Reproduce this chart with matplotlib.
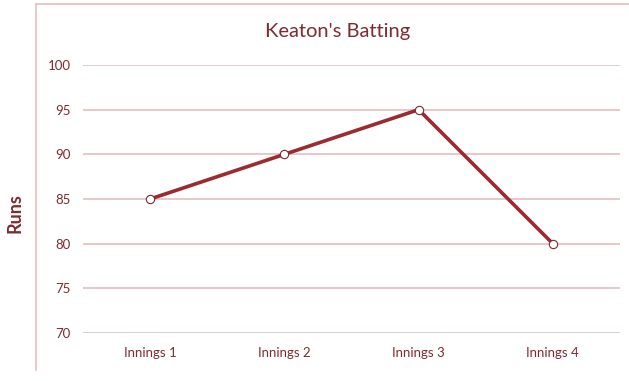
import matplotlib.pyplot as plt
from matplotlib.lines import Line2D

innings = ["Innings 1", "Innings 2", "Innings 3", "Innings 4"]
runs = [85, 90, 95, 80]
y_ticks = [70, 75, 80, 85, 90, 95, 100]

text_col = "#7e2b30"
line_col = "#9b2b2e"
grid_col = "#e3bfc1"

plt.rcParams['font.family'] = ['Lato', 'DejaVu Sans']

fig = plt.figure(figsize=(6.29, 3.81), dpi=100)
W, H = 629, 381
ax = fig.add_axes([83 / W, 1 - 333 / H, (620 - 83) / W, (333 - 65) / H])

x = list(range(len(innings)))
ax.plot(x, runs, color=line_col, lw=2.6, marker="o", markersize=6,
        markerfacecolor="white", markeredgecolor="#7a2a2d", markeredgewidth=0.8,
        solid_capstyle="round", zorder=3, clip_on=False)

ax.set_xlim(-0.5, len(innings) - 0.5)
ax.set_ylim(70, 100)
ax.set_yticks(y_ticks)
ax.set_xticks(x)
ax.set_xticklabels(innings)
ax.grid(axis="y", color=grid_col, lw=1.2)
ax.set_axisbelow(True)
for s in ax.spines.values():
    s.set_visible(False)
ax.tick_params(length=0, colors=text_col, labelsize=9.5)
ax.tick_params(axis="y", pad=9)
ax.tick_params(axis="x", pad=10)

fig.text(338 / W, 1 - 31 / H, "Keaton's Batting", ha="center", va="center",
         fontsize=14.5, color=text_col)
fig.text(15 / W, 1 - 213 / H, "Runs", rotation=90, ha="center", va="center",
         fontsize=13, fontweight="bold", color=text_col)

# outer chart frame (left and top edges)
fig.add_artist(Line2D([36 / W, 36 / W], [1 - 4 / H, 1 - 370 / H],
                      transform=fig.transFigure, color=grid_col, lw=1.2))
fig.add_artist(Line2D([36 / W, 1.0], [1 - 4 / H, 1 - 4 / H],
                      transform=fig.transFigure, color=grid_col, lw=1.2))

fig.savefig("out.png", dpi=100)
